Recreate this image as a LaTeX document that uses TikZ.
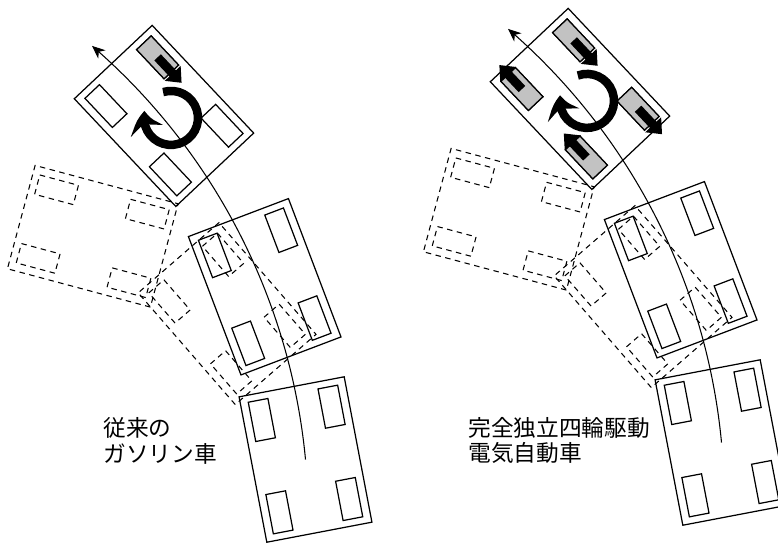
\documentclass[tikz,border=0pt]{standalone}
\usepackage{fontspec}
\newfontfamily\jpfont{Noto Sans CJK JP}
\usepackage{tikz}
\usetikzlibrary{arrows.meta, bending}

\definecolor{tiregray}{gray}{0.76}

\begin{document}
\begin{tikzpicture}[x=0.2mm, y=0.2mm,
	car body/.style={line width=0.7pt},
	ghost car/.style={line width=0.6pt, dash pattern=on 1.1mm off 0.9mm},
	car/.pic={
		\draw (-53.5,-74) rectangle (53.5,74);
		\foreach \wx in {-35.5,35.5}
			\foreach \wy in {-47,47}
				\draw (\wx-10,\wy-20) rectangle (\wx+10,\wy+20);
	},
	track/.style={line width=0.6pt, -{Stealth[length=2.6mm, width=2.2mm, inset=0.8mm]}},
	wheel arr/.style={line width=1.8mm, -{Triangle[length=2.6mm, width=4.2mm]}},
	yaw arr/.style={line width=1.7mm, -{Stealth[length=4mm, width=6.6mm, inset=1.4mm, bend]}},
	caption/.style={anchor=west, inner sep=0pt, align=left, font=\jpfont\fontsize{12.9pt}{15.6pt}\selectfont}]

	\useasboundingbox (0,-543) rectangle (778,0);
	\clip (0,-543) rectangle (778,0);

	% both scenes share the same run of cars and the same track
	\foreach \sx/\sy in {0/0, 416/17} {
		\begin{scope}[shift={(\sx,\sy)}]
			\pic[car body, rotate=10.8] at (305.5,-459.5) {car};
			\pic[car body, rotate=20.8] at (264.7,-286.75) {car};
			\pic[ghost car, rotate=41] at (227.1,-313.6) {car};
			\pic[ghost car, rotate=75] at (92.75,-236.25) {car};
			\pic[car body, rotate=43.3] at (164,-115.9) {car};
			\coordinate (start) at (305.5,-459.5);
			\draw[track] (start) arc[start angle=5.4, end angle=49.2, radius=624];
		\end{scope}
	}

	% old car: only one wheel brakes
	\begin{scope}[shift={(164,-115.9)}, rotate=43.3, car body]
		\draw[fill=tiregray] (25.5,27) rectangle (45.5,67);
		\draw[wheel arr] (35.5,47) -- (35.5,12);
	\end{scope}
	\coordinate (yaw old) at (171,-117.9);
	\draw[yaw arr] (yaw old) ++(107:27) arc[start angle=107, end angle=-195, radius=27];

	% in-wheel motors: every wheel pushes
	\begin{scope}[shift={(580,-98.9)}, rotate=43.3, car body]
		\foreach \wx/\wy in {-35.5/-47, -35.5/47, 35.5/-47, 35.5/47}
			\draw[fill=tiregray] (\wx-10,\wy-20) rectangle (\wx+10,\wy+20);
		\draw[wheel arr] (35.5,47) -- (35.5,12);
		\draw[wheel arr] (35.5,-47) -- (35.5,-82);
		\draw[wheel arr] (-35.5,47) -- (-35.5,80);
		\draw[wheel arr] (-35.5,-47) -- (-35.5,-14);
	\end{scope}
	\coordinate (yaw ev) at (587,-100.9);
	\draw[yaw arr] (yaw ev) ++(110:27) arc[start angle=110, end angle=-192, radius=27];

	\node[caption] (gas) at (103,-441) {従来の\\[-1.2pt]ガソリン車};
	\node[caption] (ev) at (468,-440.5) {完全独立四輪駆動\\[-1.2pt]電気自動車};
\end{tikzpicture}
\end{document}
